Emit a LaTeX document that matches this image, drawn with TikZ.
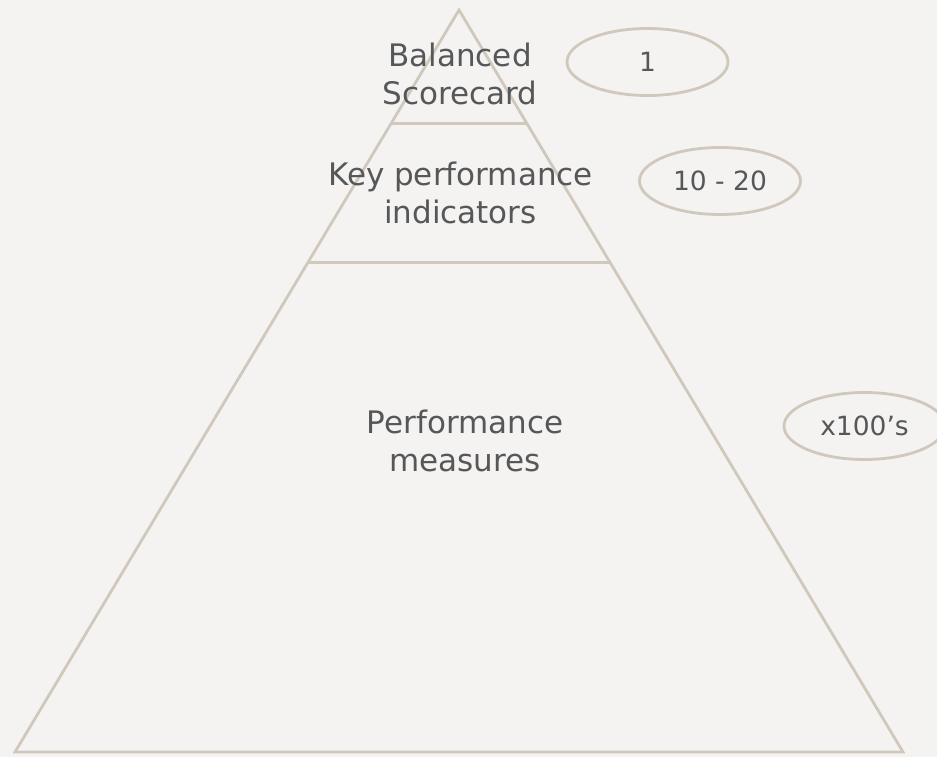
\documentclass[tikz,border=0pt]{standalone}
\usepackage{fontspec}
\setmainfont{DejaVu Sans}
\usetikzlibrary{calc, shapes.geometric}
\definecolor{paper}{RGB}{244,243,241}
\definecolor{sand}{RGB}{208,200,188}
\definecolor{ink}{RGB}{86,87,89}

\tikzset{
	rim/.style={draw=sand, line width=2.8pt},
	tier/.style={align=center, inner sep=0pt, text=ink,
		font=\fontsize{31}{38.5}\selectfont},
	count/.style={ellipse, rim, inner sep=0pt,
		minimum width=161pt, minimum height=67pt, text=ink,
		font=\fontsize{26.5}{32}\selectfont},
}

\begin{document}
\begin{tikzpicture}[x=1pt, y=-1pt]
	\useasboundingbox (0,0) rectangle (937,757);%
	\clip (0,0) rectangle (937,757);%
	\fill[paper] (0,0) rectangle (937,757);%
	%
	% pyramid outline
	\coordinate (apex) at (459,10);%
	\coordinate (base-l) at (15,752);%
	\coordinate (base-r) at (903,752);%
	\draw[rim, line join=miter] (apex) -- (base-l) -- (base-r) -- cycle;%
	%
	% tier boundaries
	\coordinate (t1-l) at ($(apex)!0.1534!(base-l)$);%
	\coordinate (t1-r) at ($(apex)!0.1534!(base-r)$);%
	\coordinate (t2-l) at ($(apex)!0.3405!(base-l)$);%
	\coordinate (t2-r) at ($(apex)!0.3405!(base-r)$);%
	\draw[rim] (t1-l) -- (t1-r);%
	\draw[rim] (t2-l) -- (t2-r);%
	%
	% tier labels
	\node[tier] (bsc) at (460,74) {Balanced\\Scorecard};%
	\node[tier] (kpi) at (460.5,193) {Key performance\\indicators};%
	\node[tier] (pm) at (465,441) {Performance\\measures};%
	%
	% counts
	\node[count] (bsc-n) at (647.5,62) {1};%
	\node[count] (kpi-n) at (720,181) {10 - 20};%
	\node[count] (pm-n) at (864.5,426) {x100’s};%
\end{tikzpicture}
\end{document}
